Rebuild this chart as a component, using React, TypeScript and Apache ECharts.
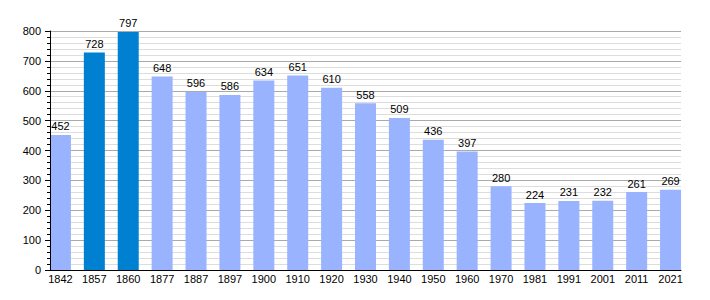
import React, { useEffect, useRef } from "react";
import * as echarts from "echarts";

const years = ["1842","1857","1860","1877","1887","1897","1900","1910","1920","1930","1940","1950","1960","1970","1981","1991","2001","2011","2021"];
const population = [452,728,797,648,596,586,634,651,610,558,509,436,397,280,224,231,232,261,269];
const highlighted = ["1857","1860"];

const LIGHT = "#99b3ff";
const DARK = "#0080d0";
const FONT = "Liberation Sans";

export default function App() {
  const ref = useRef<HTMLDivElement>(null);
  useEffect(() => {
    if (!ref.current) return;
    const chart = echarts.init(ref.current, null, { renderer: "svg" });
    chart.setOption({
      animation: false,
      textStyle: { fontFamily: FONT },
      grid: [
        { left: 50, right: 29, top: 31, bottom: 30, containLabel: false },
        { left: 43.5, right: 22.5, top: 31, bottom: 30, containLabel: false },
      ],
      xAxis: [
        {
          gridIndex: 0,
          type: "value",
          min: 0,
          max: 1,
          axisLine: { show: true, onZero: false, lineStyle: { color: "#000", width: 1 } },
          axisTick: { show: false },
          axisLabel: { show: false },
          splitLine: { show: false },
          z: 10,
        },
        {
          gridIndex: 1,
          type: "category",
          data: years,
          axisLine: { show: false },
          axisTick: { show: false },
          axisLabel: { color: "#000", fontSize: 11, fontFamily: FONT, margin: 3, interval: 0 },
          splitLine: { show: false },
        },
      ],
      yAxis: [
        {
          gridIndex: 0,
          type: "value",
          position: "left",
          min: 0,
          max: 800,
          interval: 100,
          axisLine: { show: false },
          axisTick: { show: false },
          axisLabel: { color: "#000", fontSize: 11, fontFamily: FONT, margin: 9 },
          splitLine: { show: true, lineStyle: { color: "#aaaaaa", width: 1 } },
          minorTick: { show: false, splitNumber: 5 },
          minorSplitLine: { show: true, lineStyle: { color: "#dddddd", width: 1 } },
        },
        {
          gridIndex: 0,
          type: "value",
          position: "left",
          offset: 0,
          min: 0,
          max: 800,
          interval: 100,
          axisLine: { show: true, onZero: false, lineStyle: { color: "#000", width: 1 } },
          axisTick: { show: true, length: 5, lineStyle: { color: "#000" } },
          minorTick: { show: true, splitNumber: 5, length: 3, lineStyle: { color: "#000" } },
          axisLabel: { show: false },
          splitLine: { show: false },
          minorSplitLine: { show: false },
          z: 10,
        },
        {
          gridIndex: 1,
          type: "value",
          min: 0,
          max: 800,
          show: false,
        },
      ],
      series: [
        {
          type: "bar",
          xAxisIndex: 1,
          yAxisIndex: 2,
          barWidth: 21,
          data: population.map((v, i) => ({
            value: v,
            itemStyle: { color: highlighted.includes(years[i]) ? DARK : LIGHT },
          })),
          label: {
            show: true,
            position: "top",
            distance: 3,
            color: "#000",
            fontSize: 11,
            fontFamily: FONT,
          },
        },
      ],
    });
    return () => chart.dispose();
  }, []);
  return <div ref={ref} style={{ width: 710, height: 300, margin: -8 }} />;
}
